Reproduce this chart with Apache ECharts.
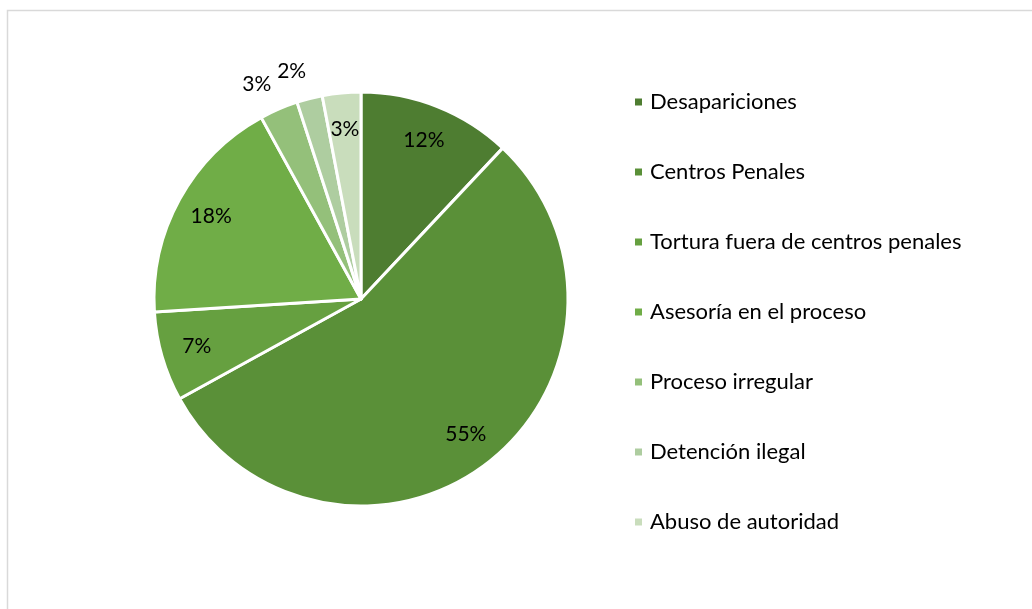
<!DOCTYPE html>
<html><head><meta charset="utf-8">
<script src="https://cdn.jsdelivr.net/npm/echarts@6/dist/echarts.min.js"></script>
<style>html,body{margin:0;padding:0;background:#fff}#c{width:1032px;height:609px}</style>
</head><body><div id="c"></div>
<script>
const categories = ['Desapariciones','Centros Penales','Tortura fuera de centros penales','Asesoría en el proceso','Proceso irregular','Detención ilegal','Abuso de autoridad'];
const values = [12, 55, 7, 18, 3, 2, 3];
const colors = ['#4E7D31','#5A9038','#66A040','#70AD47','#94C07A','#AECDA0','#C9DDBC'];
const outsideLabels = ['Proceso irregular','Detención ilegal'];

const font = 'Lato, "Open Sans", sans-serif';
const center = [361, 299];
const R = 207;
const pct = p => Math.round(p.percent) + '%';

const chart = echarts.init(document.getElementById('c'), null, {renderer:'canvas'});
chart.setOption({
  animation: false,
  color: colors,
  graphic: [{type:'rect', shape:{x:7.5, y:10.5, width:1100, height:700}, style:{fill:'none', stroke:'#D9D9D9', lineWidth:1.5}, silent:true}],
  legend: {
    orient: 'vertical', left: 628, top: 86,
    itemWidth: 9, itemHeight: 9, itemGap: 48, icon: 'rect',
    textStyle: {fontFamily: font, fontSize: 22, lineHeight: 22, color: '#000', padding:[0,0,0,2]},
    data: categories
  },
  series: [
    {
      type: 'pie', center: center, radius: [0, R], startAngle: 90, clockwise: true,
      silent: true,
      itemStyle: {borderColor: '#fff', borderWidth: 3},
      label: {show: false}, labelLine: {show: false},
      data: categories.map((n,i) => ({name: n, value: values[i]}))
    },
    {
      type: 'pie', center: center, radius: [129, R], startAngle: 90, clockwise: true,
      silent: true, legendHoverLink: false,
      itemStyle: {color: 'rgba(0,0,0,0)'},
      label: {show: true, position: 'inside', fontFamily: font, fontSize: 21, color: '#000',
        formatter: p => outsideLabels.includes(p.name) ? '' : pct(p)},
      labelLine: {show: false},
      data: categories.map((n,i) => ({name: n, value: values[i]}))
    },
    {
      type: 'pie', center: center, radius: [R, 264], startAngle: 92.5, clockwise: true,
      silent: true, legendHoverLink: false,
      itemStyle: {color: 'rgba(0,0,0,0)'},
      label: {show: true, position: 'inside', fontFamily: font, fontSize: 21, color: '#000',
        formatter: p => outsideLabels.includes(p.name) ? pct(p) : ''},
      labelLine: {show: false},
      data: categories.map((n,i) => ({name: n, value: values[i]}))
    }
  ]
});
</script></body></html>
